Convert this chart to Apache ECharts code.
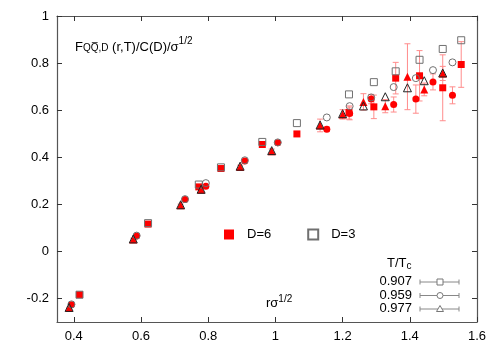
<!DOCTYPE html>
<html>
<head>
<meta charset="utf-8">
<script src="https://cdn.jsdelivr.net/npm/echarts@6/dist/echarts.min.js"></script>
<style>
  html, body { margin: 0; padding: 0; background: #fff; }
  #chart { width: 500px; height: 350px; }
</style>
</head>
<body>
<div id="chart"></div>
<script>
// tick labels
const xTicks = [0.4, 0.6, 0.8, 1, 1.2, 1.4, 1.6];
const yTicks = [-0.2, 0, 0.2, 0.4, 0.6, 0.8, 1];

// T/Tc = 0.907 (squares)
const sqX    = [0.417, 0.621, 0.772, 0.838, 0.961, 1.064, 1.219, 1.293, 1.358, 1.429, 1.498, 1.553];
const sqY6   = [-0.184, 0.116, 0.274, 0.352, 0.454, 0.499, 0.590, 0.614, 0.736, 0.746, 0.695, 0.794];
const sqE6   = [0.005, 0.006, 0.006, 0.007, 0.008, 0.010, 0.028, 0.050, 0.067, 0.107, 0.140, 0.097];
const sqY3   = [-0.184, 0.120, 0.284, 0.357, 0.465, 0.545, 0.667, 0.719, 0.765, 0.814, 0.860, 0.897];

// T/Tc = 0.959 (circles)
const ciX    = [0.393, 0.587, 0.731, 0.793, 0.909, 1.007, 1.153, 1.221, 1.285, 1.352, 1.418, 1.469, 1.527];
const ciY6   = [-0.227, 0.065, 0.220, 0.277, 0.384, 0.461, 0.519, 0.586, 0.647, 0.624, 0.647, 0.720, 0.663];
const ciE6   = [0.004, 0.005, 0.005, 0.006, 0.007, 0.008, 0.010, 0.027, 0.020, 0.032, 0.060, 0.034, 0.036];
const ciY3   = [-0.225, 0.067, 0.222, 0.290, 0.387, 0.463, 0.569, 0.617, 0.654, 0.698, 0.736, 0.770, 0.803];

// T/Tc = 0.977 (triangles)
const trX    = [0.386, 0.577, 0.718, 0.779, 0.895, 0.989, 1.133, 1.200, 1.262, 1.327, 1.393, 1.443, 1.498];
const trY6   = [-0.241, 0.051, 0.196, 0.262, 0.359, 0.425, 0.535, 0.582, 0.635, 0.617, 0.742, 0.688, 0.756];
const trE6   = [0.004, 0.005, 0.005, 0.006, 0.007, 0.010, 0.027, 0.020, 0.035, 0.028, 0.140, 0.027, 0.030];
const trY3   = [-0.238, 0.053, 0.198, 0.264, 0.362, 0.428, 0.537, 0.585, 0.618, 0.657, 0.695, 0.725, 0.758];

const tLabels = ['0.907', '0.959', '0.977'];

const RED = '#ff0000';
const ERR = '#ff8c8c';
const GRAY = '#707070';
const FONT = 'Liberation Sans';

const zip = (xs, ys) => xs.map((x, i) => [x, ys[i]]);

const errSeries = (xs, ys, es) => ({
  type: 'custom',
  silent: true,
  z: 1,
  data: xs.map((x, i) => [x, ys[i] - es[i], ys[i] + es[i]]),
  encode: { x: 0, y: [1, 2] },
  renderItem: (params, api) => {
    const lo = api.coord([api.value(0), api.value(1)]);
    const hi = api.coord([api.value(0), api.value(2)]);
    const w = 3;
    const style = { stroke: ERR, lineWidth: 1 };
    return {
      type: 'group',
      children: [
        { type: 'line', shape: { x1: lo[0], y1: lo[1], x2: hi[0], y2: hi[1] }, style },
        { type: 'line', shape: { x1: lo[0] - w, y1: lo[1], x2: lo[0] + w, y2: lo[1] }, style },
        { type: 'line', shape: { x1: hi[0] - w, y1: hi[1], x2: hi[0] + w, y2: hi[1] }, style }
      ]
    };
  }
});

const d6 = (name, xs, ys, symbol, size) => ({
  name, type: 'scatter', symbol, symbolSize: size, z: 2,
  data: zip(xs, ys),
  itemStyle: { color: RED, opacity: 1 }
});

const d3 = (name, xs, ys, symbol, size, col) => ({
  name, type: 'scatter', symbol, symbolSize: size, z: 3,
  data: zip(xs, ys),
  itemStyle: { color: 'rgba(0,0,0,0)', borderColor: col, borderWidth: 1, opacity: 1 }
});

const axisCommon = {
  axisLine: { show: true, onZero: false, lineStyle: { color: '#555', width: 1.2 } },
  axisTick: { show: true, inside: true, length: 5, lineStyle: { color: '#333' } },
  splitLine: { show: false }
};

const chart = echarts.init(document.getElementById('chart'));

// T/Tc key: error-bar style markers drawn as graphics
const keyItems = [];
['rect', 'circle', 'triangle'].forEach((s, i) => {
  const y = 282 + i * 13.5;
  keyItems.push({ type: 'text', right: 88, top: y - 7,
    style: { text: tLabels[i], font: '13px ' + FONT, fill: '#000', textAlign: 'right' } });
  keyItems.push({ type: 'line', shape: { x1: 420, y1: y, x2: 459, y2: y }, style: { stroke: '#888', lineWidth: 1 } });
  keyItems.push({ type: 'line', shape: { x1: 420, y1: y - 2.5, x2: 420, y2: y + 2.5 }, style: { stroke: '#888', lineWidth: 1 } });
  keyItems.push({ type: 'line', shape: { x1: 459, y1: y - 2.5, x2: 459, y2: y + 2.5 }, style: { stroke: '#888', lineWidth: 1 } });
});
keyItems.push({ type: 'rect', shape: { x: 437, y: 279, width: 6, height: 6 }, style: { fill: '#fff', stroke: '#777' } });
keyItems.push({ type: 'circle', shape: { cx: 440, cy: 295.5, r: 3 }, style: { fill: '#fff', stroke: '#777' } });
keyItems.push({ type: 'polygon', shape: { points: [[440, 305.5], [443.5, 311.5], [436.5, 311.5]] }, style: { fill: '#fff', stroke: '#777' } });

chart.setOption({
  animation: false,
  textStyle: { fontFamily: FONT },
  grid: { left: 57, right: 23, top: 16, bottom: 28 },
  xAxis: [
    Object.assign({}, axisCommon, {
      type: 'value', min: 0.35, max: 1.6, position: 'bottom',
      axisTick: Object.assign({}, axisCommon.axisTick, { customValues: xTicks }),
      axisLabel: { customValues: xTicks, fontSize: 13, color: '#000', margin: 8, fontFamily: FONT }
    }),
    Object.assign({}, axisCommon, {
      type: 'value', min: 0.35, max: 1.6, position: 'top',
      axisTick: Object.assign({}, axisCommon.axisTick, { customValues: xTicks }),
      axisLabel: { show: false }
    })
  ],
  yAxis: [
    Object.assign({}, axisCommon, {
      type: 'value', min: -0.3, max: 1, position: 'left',
      axisTick: Object.assign({}, axisCommon.axisTick, { customValues: yTicks }),
      axisLabel: { customValues: yTicks, fontSize: 13, color: '#000', margin: 8, fontFamily: FONT }
    }),
    Object.assign({}, axisCommon, {
      type: 'value', min: -0.3, max: 1, position: 'right',
      axisTick: Object.assign({}, axisCommon.axisTick, { customValues: yTicks }),
      axisLabel: { show: false }
    })
  ],
  legend: {
    data: ['D=6', 'D=3'],
    left: 219, top: 223,
    itemWidth: 10, itemHeight: 10, itemGap: 36,
    textStyle: { fontSize: 13, color: '#000', fontFamily: FONT, padding: [0, 0, 0, 8] }
  },
  series: [
    errSeries(sqX, sqY6, sqE6),
    errSeries(ciX, ciY6, ciE6),
    errSeries(trX, trY6, trE6),
    d6('D=6', sqX, sqY6, 'rect', 7),
    d6('D=6 c', ciX, ciY6, 'circle', 7),
    d6('D=6 t', trX, trY6, 'triangle', 8),
    d3('D=3', sqX, sqY3, 'rect', 7, GRAY),
    d3('D=3 c', ciX, ciY3, 'circle', 7, GRAY),
    d3('D=3 t', trX, trY3, 'triangle', 8, '#222')
  ],
  graphic: [
    { type: 'text', left: 75, top: 36,
      style: {
        text: '{a|F}{s|QQ\u0305,D}{a| (r,T)/C(D)/σ}{p|1/2}',
        rich: {
          a: { fontSize: 13, fontFamily: FONT, fill: '#000', verticalAlign: 'bottom' },
          s: { fontSize: 10, fontFamily: FONT, fill: '#000', padding: [6, 0, 0, 0] },
          p: { fontSize: 10, fontFamily: FONT, fill: '#000', padding: [0, 0, 8, 0] }
        }
      } },
    { type: 'text', left: 266, top: 294,
      style: {
        text: '{a|rσ}{p|1/2}',
        rich: {
          a: { fontSize: 13, fontFamily: FONT, fill: '#000' },
          p: { fontSize: 10, fontFamily: FONT, fill: '#000', padding: [0, 0, 8, 0] }
        }
      } },
    { type: 'text', left: 387, top: 257,
      style: {
        text: '{a|T/T}{s|c}',
        rich: {
          a: { fontSize: 13, fontFamily: FONT, fill: '#000' },
          s: { fontSize: 10, fontFamily: FONT, fill: '#000', padding: [6, 0, 0, 0] }
        }
      } }
  ].concat(keyItems)
});
</script>
</body>
</html>
